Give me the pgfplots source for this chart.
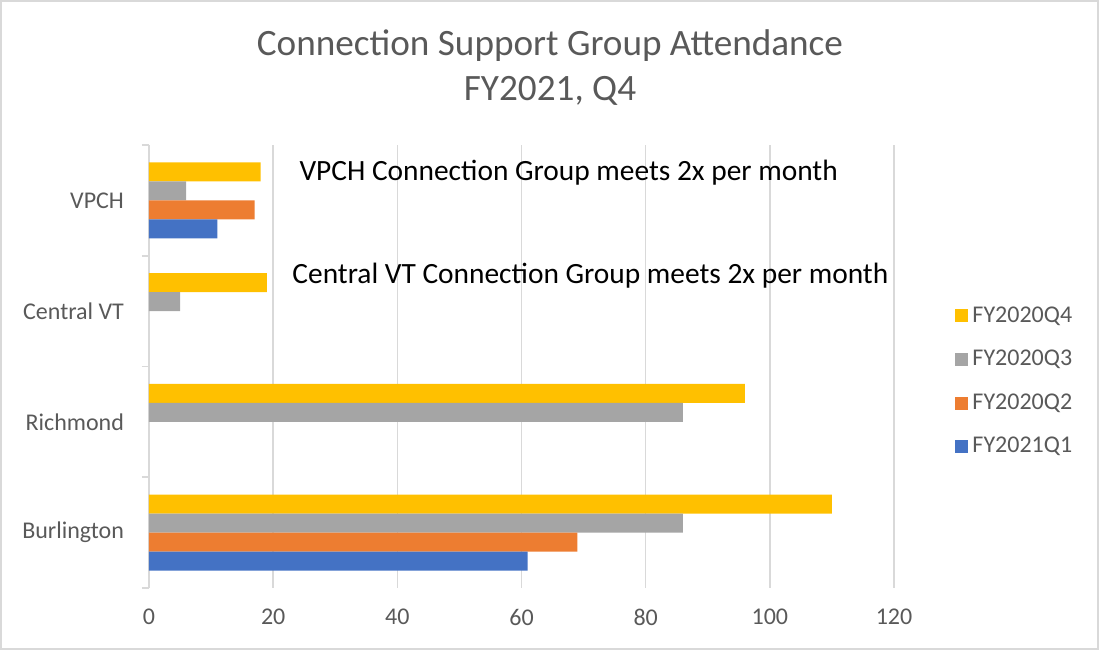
\documentclass[border=0pt]{standalone}
\usepackage{fontspec}
\setmainfont{Carlito}
\usepackage{pgfplots}
\pgfplotsset{compat=1.18}
\definecolor{txt}{HTML}{595959}
\definecolor{gridc}{HTML}{D9D9D9}
\definecolor{cq4}{HTML}{FFC000}
\definecolor{cq3}{HTML}{A5A5A5}
\definecolor{cq2}{HTML}{ED7D31}
\definecolor{cq1}{HTML}{4472C4}

\begin{document}
\begin{tikzpicture}
\useasboundingbox (-74.5pt,-31.5pt) rectangle (475.5pt,294pt);
\draw[gridc, line width=0.8pt] (-74pt,-30.5pt) rectangle (474.5pt,293.5pt);
\begin{axis}[
    at={(0,0)}, anchor=south west,
    scale only axis,
    width=372.5pt, height=221.5pt,
    xbar, bar width=9.5pt,
    xmin=0, xmax=120,
    ymin=-0.5, ymax=3.5,
    xtick={0,20,...,120},
    ytick={0,1,2,3},
    yticklabels={Burlington, Richmond, Central VT, VPCH},
    extra y ticks={-0.5,0.5,1.5,2.5,3.5},
    extra y tick labels={},
    extra y tick style={major tick length=3.5pt, tick style={gridc, line width=0.8pt}, tick pos=left, tick align=outside},
    major tick length=0pt,
    xmajorgrids, grid style={gridc, line width=0.8pt},
    axis x line*=bottom, axis y line*=left,
    x axis line style={draw=none},
    y axis line style={gridc, line width=0.8pt, -},
    tick label style={font=\fontsize{12}{14}\selectfont, text=txt},
    /pgf/number format/assume math mode=true,
    xticklabel style={yshift=-7pt},
    yticklabel style={xshift=-9pt},
    legend style={at={(1.082,0.645)}, anchor=north west, draw=none,
        font=\fontsize{12}{14}\selectfont, text=txt, row sep=8.5pt,
        inner sep=0pt, cells={anchor=west}},
    legend image code/.code={\fill[#1] (0pt,-3.25pt) rectangle (6.5pt,3.25pt);},
]
\addplot[fill=cq4, draw=none, bar shift=14.25pt] coordinates {(110,0) (96,1) (19,2) (18,3)};
\addlegendentry{FY2020Q4}
\addplot[fill=cq3, draw=none, bar shift=4.75pt] coordinates {(86,0) (86,1) (5,2) (6,3)};
\addlegendentry{FY2020Q3}
\addplot[fill=cq2, draw=none, bar shift=-4.75pt] coordinates {(69,0) (17,3)};
\addlegendentry{FY2020Q2}
\addplot[fill=cq1, draw=none, bar shift=-14.25pt] coordinates {(61,0) (11,3)};
\addlegendentry{FY2021Q1}
\node[font=\fontsize{14.7}{17}\selectfont, text=black] at (axis cs:67.6,3.25) {VPCH Connection Group meets 2x per month};
\node[font=\fontsize{14.7}{17}\selectfont, text=black] at (axis cs:71.1,2.317) {Central VT Connection Group meets 2x per month};
\end{axis}
\node[font=\fontsize{18.6}{22}\selectfont, text=txt] at (200.5pt,271pt) {Connection Support Group Attendance};
\node[font=\fontsize{18.6}{22}\selectfont, text=txt] at (200.5pt,248.5pt) {FY2021, Q4};
\end{tikzpicture}
\end{document}
